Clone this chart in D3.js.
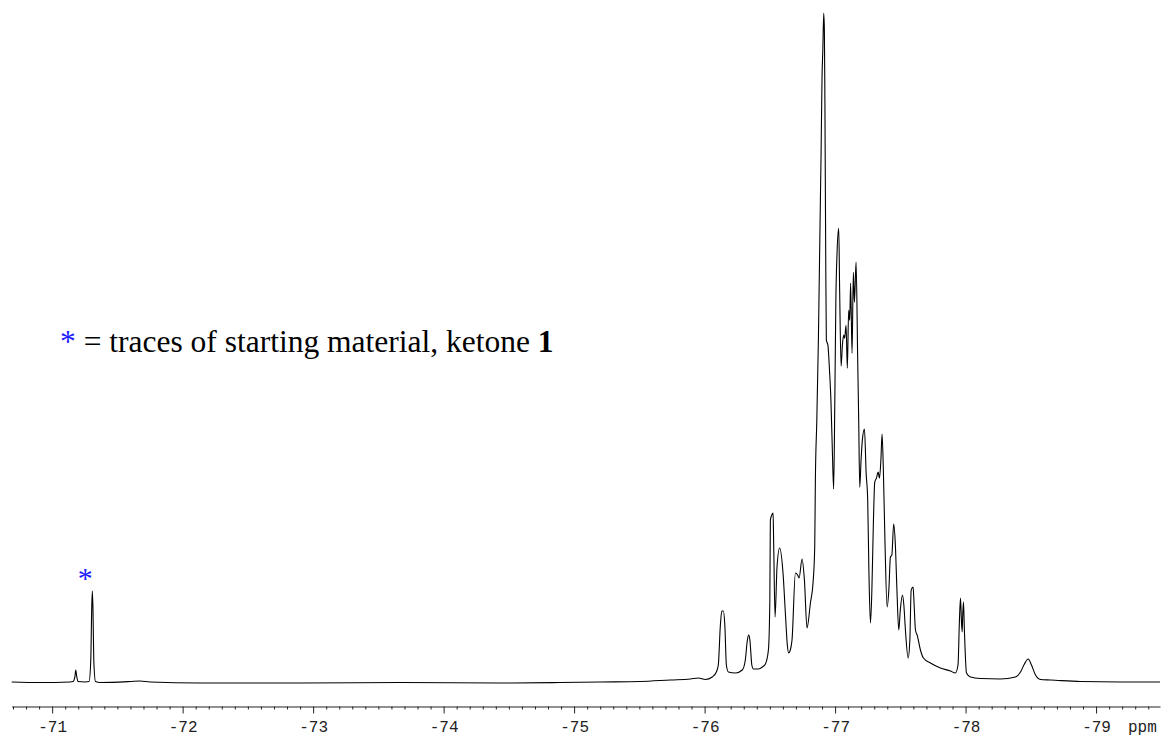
<!DOCTYPE html>
<html>
<head>
<meta charset="utf-8">
<script src="https://cdn.jsdelivr.net/npm/d3@7"></script>
<style>
  html, body { margin: 0; padding: 0; background: #fff; }
  svg { display: block; }
</style>
</head>
<body>
<svg id="chart" width="1163" height="738"></svg>
<script>
// ---- Data ----
const ppmValues = [
  -70.690, -70.907, -71.137, -71.160, -71.175, -71.181, -71.188, -71.198, -71.252,
  -71.283, -71.296, -71.303, -71.308, -71.313, -71.319, -71.332, -71.367, -71.597,
  -71.674, -71.750, -72.134, -72.900, -73.667, -74.434, -74.894, -75.201, -75.507,
  -75.737, -75.891, -75.952, -76.006, -76.059, -76.090, -76.105, -76.121, -76.132,
  -76.144, -76.155, -76.167, -76.182, -76.236, -76.289, -76.312, -76.328, -76.338,
  -76.347, -76.362, -76.374, -76.412, -76.443, -76.466, -76.489, -76.500, -76.504,
  -76.512, -76.525, -76.529, -76.540, -76.555, -76.575, -76.601, -76.619, -76.634,
  -76.644, -76.657, -76.670, -76.696, -76.713, -76.724, -76.747, -76.765, -76.785,
  -76.811, -76.831, -76.844, -76.849, -76.860, -76.872, -76.883, -76.893, -76.900,
  -76.906, -76.913, -76.918, -76.922, -76.928, -76.933, -76.945, -76.956, -76.968,
  -76.979, -76.989, -76.998, -77.006, -77.015, -77.028, -77.035, -77.046, -77.056,
  -77.066, -77.073, -77.084, -77.094, -77.104, -77.112, -77.119, -77.130, -77.140,
  -77.148, -77.161, -77.173, -77.181, -77.189, -77.199, -77.209, -77.225, -77.238,
  -77.250, -77.259, -77.271, -77.282, -77.294, -77.304, -77.317, -77.330, -77.340,
  -77.351, -77.360, -77.370, -77.382, -77.399, -77.412, -77.424, -77.435, -77.449,
  -77.462, -77.474, -77.488, -77.500, -77.516, -77.527, -77.539, -77.560, -77.573,
  -77.583, -77.598, -77.604, -77.616, -77.631, -77.654, -77.677, -77.731, -77.807,
  -77.884, -77.922, -77.942, -77.953, -77.961, -77.968, -77.974, -77.978, -77.984,
  -77.991, -78.007, -78.037, -78.114, -78.267, -78.382, -78.421, -78.451, -78.480,
  -78.505, -78.536, -78.574, -78.651, -78.881, -79.187, -79.490
];
const intensityValues = [
  0.15, 0.07, 0.15, 0.22, 1.04, 1.94, 1.04, 0.22, 0.15,
  0.22, 3.43, 10.9, 13.73, 10.9, 3.43, 0.22, 0.07, 0.22,
  0.30, 0.15, 0.00, 0.00, 0.07, 0.00, 0.07, 0.15, 0.22,
  0.45, 0.60, 0.75, 0.52, 0.90, 1.64, 2.69, 8.66, 10.75,
  10.75, 8.66, 2.69, 1.64, 1.49, 1.94, 3.43, 6.42, 7.16,
  6.42, 2.69, 2.09, 2.09, 2.39, 2.84, 4.93, 12.39, 24.33,
  24.93, 25.37, 21.34, 9.85, 17.31, 20.15, 16.42, 10.45, 5.67,
  4.48, 4.93, 6.42, 16.42, 16.12, 15.67, 18.51, 15.37, 8.21,
  11.94, 14.93, 20.30, 30.30, 39.25, 51.19, 66.12, 79.55, 90.45,
  94.48, 100.0, 97.46, 87.01, 64.63, 51.19, 50.45, 47.16, 42.24,
  34.78, 28.96, 42.24, 57.16, 64.18, 67.91, 58.66, 47.31, 50.45,
  51.94, 51.49, 53.43, 47.01, 55.67, 54.18, 59.70, 49.25, 61.34,
  56.87, 62.84, 48.66, 39.25, 29.25, 33.28, 36.27, 37.91, 31.34,
  27.31, 16.87, 8.96, 13.88, 24.33, 30.00, 30.60, 31.49, 30.60,
  33.28, 37.16, 31.79, 21.34, 11.34, 13.88, 18.81, 19.10, 23.73,
  20.60, 13.88, 7.91, 10.90, 13.13, 11.64, 7.91, 3.73, 6.42,
  13.88, 14.33, 12.39, 7.91, 7.01, 4.93, 3.73, 2.99, 2.24,
  1.79, 1.49, 2.69, 9.40, 12.69, 9.40, 7.61, 10.15, 12.09,
  7.91, 1.49, 0.90, 0.67, 0.60, 0.90, 1.64, 2.84, 3.58,
  2.69, 1.19, 0.52, 0.45, 0.22, 0.15, 0.15
];
const majorTicks = [-71, -72, -73, -74, -75, -76, -77, -78, -79];
const axisUnit = "ppm";
const markerPpm = [-71.308];
const markerLabel = ["*"];
const notePrefix = "*";
const noteText = " = traces of starting material, ketone ";
const noteBold = "1";

// ---- Layout ----
const svg = d3.select("#chart");
const x = d3.scaleLinear().domain([-70.69, -79.49]).range([11.7, 1160]);
const y = d3.scaleLinear().domain([0, 100]).range([683, 13.3]);
const axisY = 706.5;

// minor ticks every 0.1 ppm
const minorTicks = d3.range(-707, -795, -1).map(v => v / 10)
  .filter(v => Math.abs(v - Math.round(v)) > 1e-6);

const gMinor = svg.append("g").attr("transform", `translate(0,${axisY})`)
  .call(d3.axisBottom(x).tickValues(minorTicks).tickSize(3).tickSizeOuter(0).tickFormat(""));
gMinor.selectAll("path").remove();

const gMajor = svg.append("g").attr("transform", `translate(0,${axisY})`)
  .call(d3.axisBottom(x).tickValues(majorTicks).tickSize(7).tickSizeOuter(0)
    .tickFormat(d => String(d)));
gMajor.selectAll("text")
  .attr("y", 25.5).attr("dy", null)
  .attr("font-family", "'Liberation Mono', 'DejaVu Sans Mono', monospace")
  .attr("font-size", 16).attr("fill", "#222");
svg.selectAll(".domain").attr("stroke", "#222").attr("stroke-width", 1);
svg.selectAll(".tick line").attr("stroke", "#222").attr("stroke-width", 1);

svg.append("text")
  .attr("x", 1128).attr("y", axisY + 25.5)
  .attr("font-family", "'Liberation Mono', 'DejaVu Sans Mono', monospace")
  .attr("font-size", 16).attr("fill", "#222")
  .text(axisUnit);

// spectrum
const data = ppmValues.map((p, i) => [p, intensityValues[i]]);
svg.append("path")
  .datum(data)
  .attr("fill", "none")
  .attr("stroke", "#000")
  .attr("stroke-width", 1.1)
  .attr("stroke-linejoin", "round")
  .attr("d", d3.line().curve(d3.curveMonotoneX).x(d => x(d[0])).y(d => y(d[1])));

// marker above the impurity peak
svg.selectAll("text.marker").data(markerPpm).enter().append("text")
  .attr("class", "marker")
  .attr("x", d => x(d) - 7)
  .attr("y", 588)
  .attr("text-anchor", "middle")
  .attr("font-family", "'Liberation Serif', 'Times New Roman', serif")
  .attr("font-size", 30)
  .attr("fill", "#1a1aff")
  .text((d, i) => markerLabel[i]);

// annotation
const note = svg.append("text")
  .attr("x", 60).attr("y", 352)
  .attr("font-family", "'Liberation Serif', 'Times New Roman', serif")
  .attr("font-size", 31.5)
  .attr("fill", "#000");
note.append("tspan").attr("fill", "#1a1aff").text(notePrefix);
note.append("tspan").text(noteText);
note.append("tspan").attr("font-weight", "bold").text(noteBold);
</script>
</body>
</html>
